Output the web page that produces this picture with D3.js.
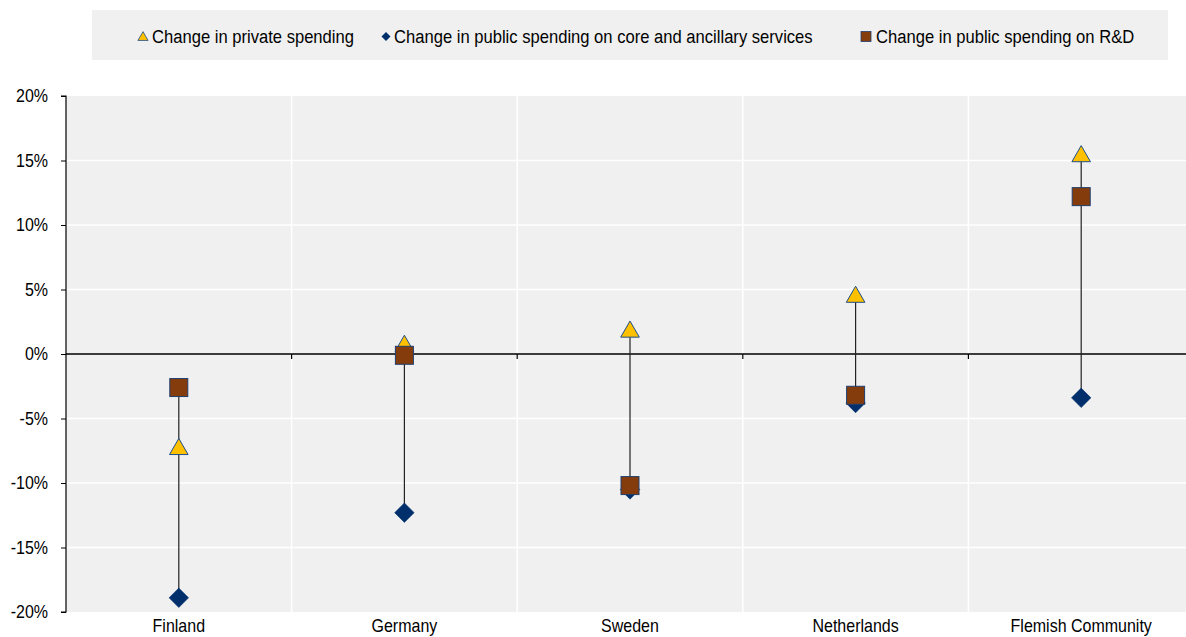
<!DOCTYPE html>
<html><head><meta charset="utf-8">
<script src="https://cdn.jsdelivr.net/npm/d3@7"></script>
<style>body{margin:0;background:#fff;font-family:"Liberation Sans",Arial,sans-serif;}</style>
</head><body>
<svg id="c" width="1186" height="637"></svg>
<script>
const categories = ["Finland","Germany","Sweden","Netherlands","Flemish Community"];
const privateSpending = [-7.3, 0.7, 1.8, 4.5, 15.4];
const publicCore = [-18.9, -12.3, -10.5, -3.8, -3.4];
const publicRD = [-2.6, -0.1, -10.2, -3.2, 12.2];
const yTicks = [-20,-15,-10,-5,0,5,10,15,20];
const legendLabels = ["Change in private spending","Change in public spending on core and ancillary services","Change in public spending on R&D"];

const svg = d3.select("#c");
const pL = 66, pR = 1194, pT = 96, pB = 612;
const FONT = "Liberation Sans, Arial, sans-serif";
const SY = 1.15;
const x = d3.scaleBand().domain(categories).range([pL, pR]);
const y = d3.scaleLinear().domain([-20, 20]).range([pB, pT]);

// background
svg.append("rect").attr("x", pL).attr("y", pT).attr("width", pR-pL).attr("height", pB-pT).attr("fill", "#f0f0f0");
// horizontal grid
svg.append("g").selectAll("line").data(yTicks.filter(d=>d!==0 && d!==20 && d!==-20)).join("line")
  .attr("x1", pL).attr("x2", pR).attr("y1", d=>y(d)).attr("y2", d=>y(d))
  .attr("stroke", "#fff").attr("stroke-width", 1.5);
// vertical grid
svg.append("g").selectAll("line").data(categories.slice(1)).join("line")
  .attr("x1", d=>x(d)).attr("x2", d=>x(d)).attr("y1", pT).attr("y2", pB)
  .attr("stroke", "#fff").attr("stroke-width", 1.5);

// y axis
const yAxis = d3.axisLeft(y).tickValues(yTicks).tickFormat(d=>d+"%").tickSize(5).tickPadding(13);
const gy = svg.append("g").attr("transform", `translate(${pL},0)`).call(yAxis);
gy.select(".domain").attr("stroke", "#000").attr("stroke-width", 1.2).attr("d", `M-5,${pT}H0V${pB}H-5`);
gy.selectAll(".tick line").attr("stroke", "#000");
gy.selectAll("text").attr("font-size", 16).attr("fill", "#000").attr("font-family", FONT)
  .attr("transform", `scale(1,${SY})`);

// zero line with ticks
const gx = svg.append("g").attr("transform", `translate(0,${y(0)})`);
gx.append("line").attr("x1", pL).attr("x2", pR).attr("stroke", "#000").attr("stroke-width", 1.5);
gx.selectAll("line.t").data(categories.slice(1)).join("line").attr("class","t")
  .attr("x1", d=>x(d)).attr("x2", d=>x(d)).attr("y1", 0).attr("y2", 5).attr("stroke", "#000").attr("stroke-width", 1.2);

// x labels
const xAxis = d3.axisBottom(x).tickSize(0).tickPadding(6);
const gxl = svg.append("g").attr("transform", `translate(0,${pB})`).call(xAxis);
gxl.select(".domain").remove();
gxl.selectAll("text").attr("font-size", 16).attr("fill", "#000").attr("font-family", FONT)
  .attr("transform", `scale(1,${SY})`);

// connecting lines
const cx = d => x(d) + x.bandwidth()/2;
svg.append("g").selectAll("line").data(categories).join("line")
  .attr("x1", d=>cx(d)).attr("x2", d=>cx(d))
  .attr("y1", (d,i)=>y(Math.max(privateSpending[i], publicCore[i], publicRD[i])))
  .attr("y2", (d,i)=>y(Math.min(privateSpending[i], publicCore[i], publicRD[i])))
  .attr("stroke", "#222").attr("stroke-width", 1.2);

const triangle = d3.symbol().type(d3.symbolTriangle).size(150);
// diamonds
svg.append("g").selectAll("path").data(categories).join("path")
  .attr("d", d3.symbol().type(d3.symbolSquare).size(190))
  .attr("transform", (d,i)=>`translate(${cx(d)},${y(publicCore[i])}) rotate(45)`)
  .attr("fill", "#002f6c").attr("stroke", "#002f6c").attr("stroke-width", 0.5);
// triangles
svg.append("g").selectAll("path").data(categories).join("path")
  .attr("d", triangle)
  .attr("transform", (d,i)=>`translate(${cx(d)},${y(privateSpending[i])+1})`)
  .attr("fill", "#ffc000").attr("stroke", "#1f4e8c").attr("stroke-width", 1);
// squares
svg.append("g").selectAll("rect").data(categories).join("rect")
  .attr("x", d=>cx(d)-9).attr("y", (d,i)=>y(publicRD[i])-9).attr("width", 18).attr("height", 18)
  .attr("fill", "#843c0c").attr("stroke", "#1f3f6f").attr("stroke-width", 1);

// legend
svg.append("rect").attr("x", 92).attr("y", 10).attr("width", 1076).attr("height", 50).attr("fill", "#f0f0f0");
const lx = [143, 386, 866];
const lg = svg.append("g");
lg.append("path").attr("d", d3.symbol().type(d3.symbolTriangle).size(45)).attr("transform", `translate(${lx[0]},${37.5})`)
  .attr("fill", "#ffc000").attr("stroke", "#1f4e8c").attr("stroke-width", 0.8);
lg.append("path").attr("d", d3.symbol().type(d3.symbolSquare).size(40)).attr("transform", `translate(${lx[1]},${36.5}) rotate(45)`)
  .attr("fill", "#002f6c");
lg.append("rect").attr("x", lx[2]-5).attr("y", 31.5).attr("width", 10).attr("height", 10)
  .attr("fill", "#843c0c").attr("stroke", "#1f3f6f").attr("stroke-width", 0.8);
lg.selectAll("text").data(legendLabels).join("text")
  .attr("transform", (d,i)=>`translate(${lx[i]+[9,8,10][i]},43) scale(1,${SY})`).text(d=>d)
  .attr("font-size", 16.6).attr("fill", "#000").attr("font-family", FONT);
</script>
</body></html>
